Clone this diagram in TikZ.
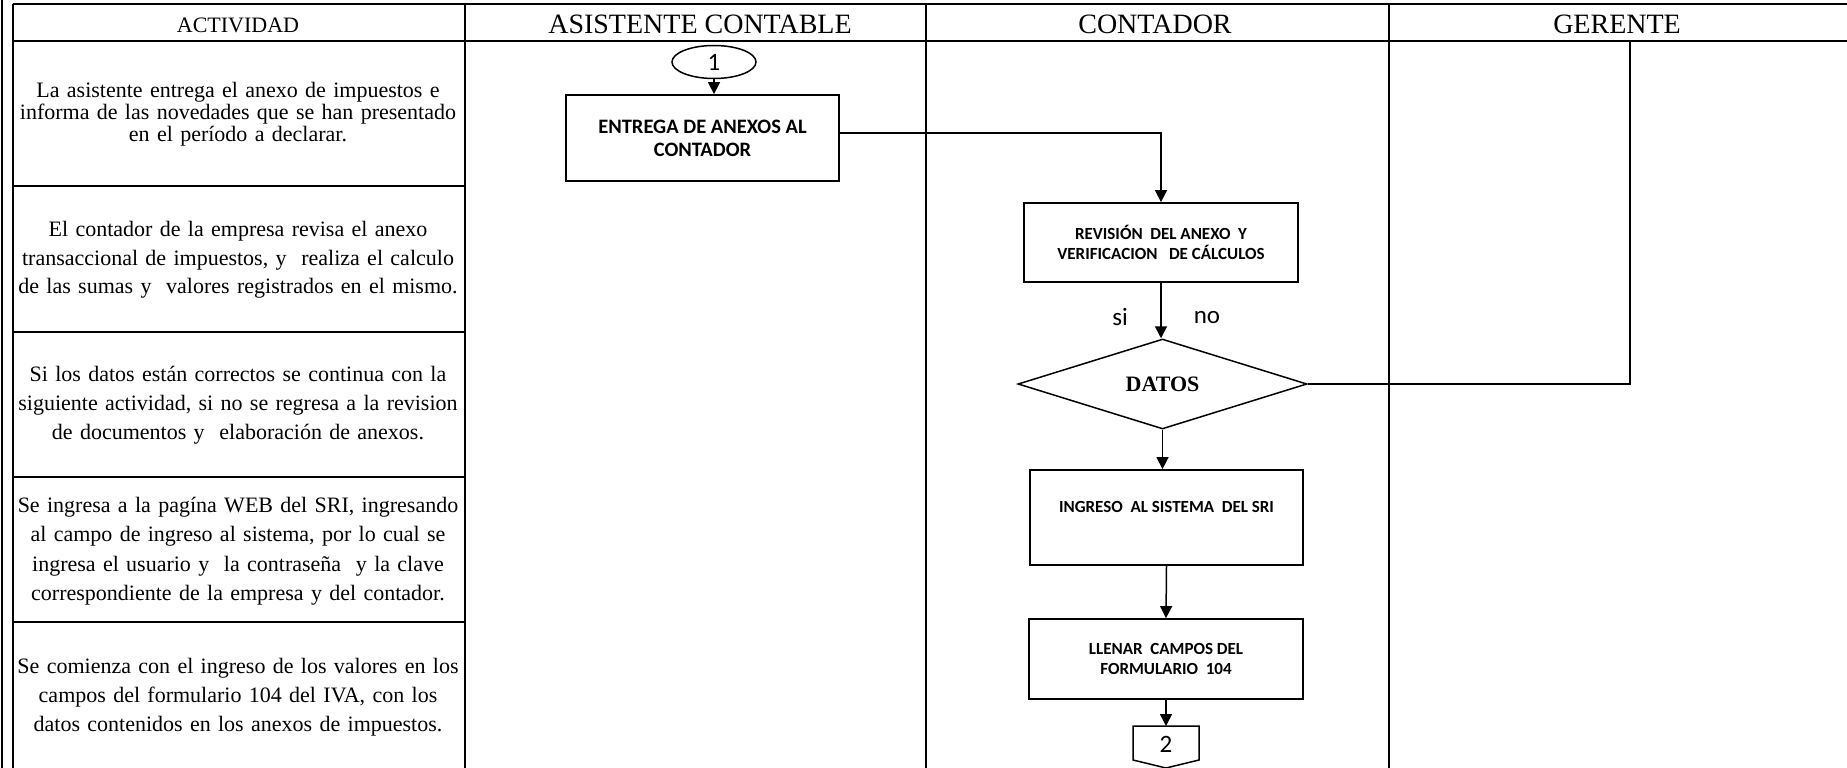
\documentclass[tikz,border=0pt]{standalone}
\usepackage{fontspec}
\setmainfont{Liberation Serif}
\newfontfamily\calfont{Carlito}
\usetikzlibrary{arrows.meta,shapes.geometric}
\begin{document}
\begin{tikzpicture}[x=1pt,y=-1pt,
  grid/.style={line width=2pt},
  rowline/.style={line width=2.4pt},
  hdr/.style={inner sep=0pt,font=\fontsize{28}{30}\selectfont},
  act/.style={align=center,text width=500pt,inner sep=0pt},
  proc/.style={draw,line width=1.8pt,rectangle,minimum width=273pt,inner sep=0pt,align=center,font=\calfont\bfseries\fontsize{17}{20}\selectfont},
  lbl/.style={inner sep=0pt,anchor=base,font=\calfont\fontsize{25}{25}\selectfont},
  flow/.style={line width=1.5pt,-{Triangle[width=12pt,length=12pt]}},
  link/.style={line width=1.5pt}
]
\useasboundingbox (0,0) rectangle (1847,768);
% ---- table ----
\draw[grid] (1.5,0) -- (1.5,768);
\draw[grid] (12.5,4) -- (12.5,768);
\draw[grid] (12.5,4) -- (1847,4);
\draw[grid] (12.5,41) -- (1847,41);
\foreach \x in {465,926,1389} \draw[grid] (\x,4) -- (\x,768);
\foreach \y in {186,332,477,622} \draw[rowline] (12.5,\y) -- (465,\y);
% headers
\node[hdr,font=\fontsize{22}{26}\selectfont] (hA) at (238,25.5) {ACTIVIDAD};
\node[hdr] (hB) at (700,24) {ASISTENTE CONTABLE};
\node[hdr] (hC) at (1155,24) {CONTADOR};
\node[hdr] (hD) at (1617,24) {GERENTE};
% activity texts
\node[act,font=\fontsize{22}{22}\selectfont] (a1) at (238,114) {La asistente entrega el anexo de impuestos e\\informa de las novedades que se han presentado\\en el período a declarar.};
\node[act,font=\fontsize{22}{28.5}\selectfont] (a2) at (238,260) {El contador de la empresa revisa el anexo\\transaccional de impuestos, y~ realiza el calculo\\de las sumas y~ valores registrados en el mismo.};
\node[act,font=\fontsize{22}{29}\selectfont] (a3) at (238,405) {Si los datos están correctos se continua con la\\siguiente actividad, si no se regresa a la revision\\de documentos y~ elaboración de anexos.};
\node[act,font=\fontsize{22}{29.5}\selectfont] (a4) at (238,551) {Se ingresa a la pagína WEB del SRI, ingresando\\al campo de ingreso al sistema, por lo cual se\\ingresa el usuario y~ la contraseña~ y la clave\\correspondiente de la empresa y del contador.};
\node[act,font=\fontsize{22}{29}\selectfont] (a5) at (238,697) {Se comienza con el ingreso de los valores en los\\campos del formulario 104 del IVA, con los\\datos contenidos en los anexos de impuestos.};
% ---- flowchart ----
\node[draw,ellipse,line width=1.5pt,minimum width=84pt,minimum height=33pt,inner sep=0pt,font=\calfont\fontsize{25}{25}\selectfont] (c1) at (714,62) {1};
\node[proc,minimum height=86pt,font=\calfont\bfseries\fontsize{20.5}{23}\selectfont] (box1) at (702.5,138) {ENTREGA DE ANEXOS AL\\CONTADOR};
\node[proc,minimum width=274pt,minimum height=79pt] (rev) at (1161,242.5) {REVISIÓN~ DEL ANEXO~ Y\\VERIFICACION~~ DE CÁLCULOS};
\node[draw,diamond,line width=1.5pt,minimum width=289pt,minimum height=90pt,inner sep=0pt,font=\bfseries\fontsize{22}{22}\selectfont] (dat) at (1162.5,384) {DATOS};
\node[lbl] (si) at (1120,325) {si};
\node[lbl] (no) at (1207,323) {no};
\coordinate (gtop) at (1630,41);
\node[proc,minimum height=95pt] (ing) at (1166.5,517.5) {};
\node[inner sep=0pt,font=\calfont\bfseries\fontsize{17}{20}\selectfont] (ingt) at (1166.5,507) {INGRESO~ AL SISTEMA~ DEL SRI};
\node[proc,minimum width=274pt,minimum height=80pt] (llen) at (1166,659) {LLENAR~ CAMPOS DEL\\FORMULARIO~ 104};
\coordinate (c2top) at (1166,726);
\draw[link] (1133,726) -- (1199,726) -- (1199,760) -- (1166,768) -- (1133,760) -- cycle;
\node[lbl,anchor=center] (c2) at (1166,744) {2};
% connectors
\draw[flow] (c1.south) -- (c1.south |- box1.north);
\draw[flow] ([yshift=5pt]box1.east) -| (rev.north);
\draw[flow] (rev.south) -- (rev.south |- dat.north);
\draw[link] (dat.east) -| (gtop);
\draw[flow] (dat.south) -- (dat.south |- ing.north);
\draw[flow] (ing.south) -- (llen.north);
\draw[flow] (llen.south) -- (c2top);
\end{tikzpicture}
\end{document}
